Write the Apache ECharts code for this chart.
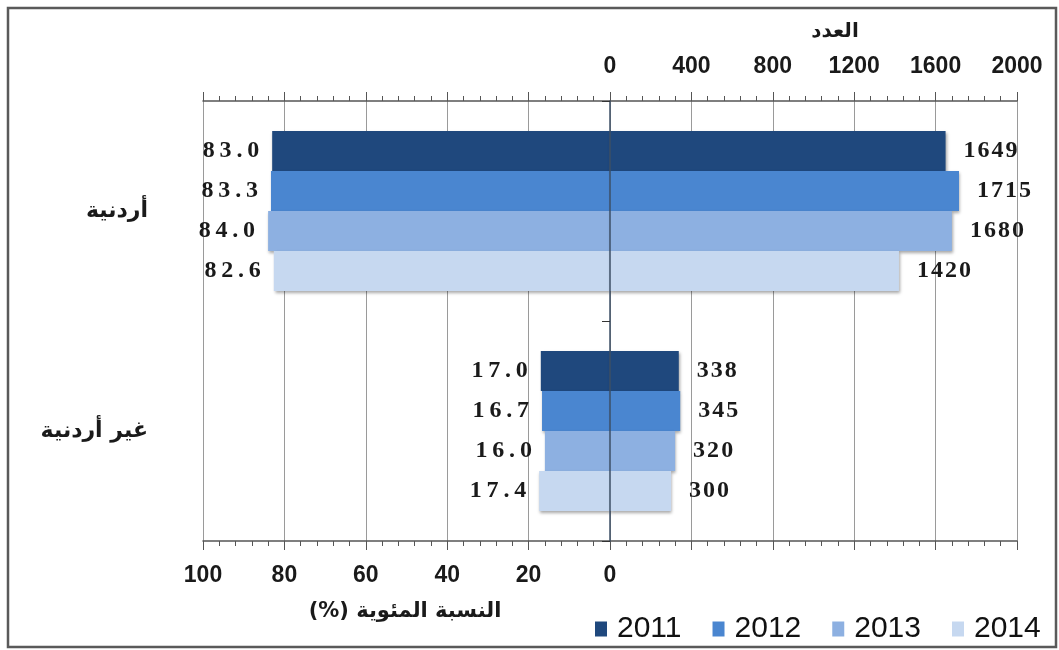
<!DOCTYPE html>
<html>
<head>
<meta charset="utf-8">
<script src="https://cdn.jsdelivr.net/npm/echarts@6/dist/echarts.min.js"></script>
<style>
html,body{margin:0;padding:0;background:#fff;}
#chart{width:1059px;height:650px;}
</style>
</head>
<body>
<div id="chart"></div>
<script>
// ---- data ----
var categories = ['أردنية', 'غير أردنية'];
var years = ['2011', '2012', '2013', '2014'];
var pct2011 = [83.0, 17.0];
var pct2012 = [83.3, 16.7];
var pct2013 = [84.0, 16.0];
var pct2014 = [82.6, 17.4];
var cnt2011 = [1649, 338];
var cnt2012 = [1715, 345];
var cnt2013 = [1680, 320];
var cnt2014 = [1420, 300];
var pctTicks = [100, 80, 60, 40, 20, 0];
var cntTicks = [0, 400, 800, 1200, 1600, 2000];
var countAxisName = 'العدد';
var pctAxisName = 'النسبة المئوية (%)';

// ---- styles ----
var colors = ['#1f487d', '#4a86d0', '#8db0e1', '#c6d8f0'];
var pctSets = [pct2011, pct2012, pct2013, pct2014];
var cntSets = [cnt2011, cnt2012, cnt2013, cnt2014];
var axisFont = 'Liberation Sans';
var arabicFont = 'DejaVu Sans';
var labelSerif = 'Liberation Serif';

var shadow = {shadowBlur: 3, shadowColor: 'rgba(0,0,0,0.35)', shadowOffsetX: 1, shadowOffsetY: 2};

var series = [];
years.forEach(function (y, i) {
  series.push({
    name: y, type: 'bar', xAxisIndex: 0, yAxisIndex: 0,
    data: pctSets[i], barWidth: 40, barGap: '0%',
    itemStyle: Object.assign({color: colors[i]}, shadow),
    label: {
      show: true, position: 'left', distance: 13,
      fontFamily: labelSerif, fontWeight: 'bold', fontSize: 24, color: '#1a1a1a',
      formatter: function (p) { return p.value.toFixed(1).split('').join('\u2009'); }
    },
    z: 2
  });
});
years.forEach(function (y, i) {
  series.push({
    name: y, type: 'bar', xAxisIndex: 1, yAxisIndex: 1,
    data: cntSets[i], barWidth: 40, barGap: '0%',
    itemStyle: Object.assign({color: colors[i]}, shadow),
    label: {
      show: true, position: 'right', distance: 18,
      fontFamily: labelSerif, fontWeight: 'bold', fontSize: 24, color: '#1a1a1a',
      formatter: function (p) { return String(p.value).split('').join('\u200A'); }
    },
    z: 2
  });
});

var chart = echarts.init(document.getElementById('chart'), null, {renderer: 'canvas'});
chart.setOption({
  backgroundColor: '#fff',
  animation: false,
  grid: {left: 203, right: 42, top: 101, bottom: 109, containLabel: false},
  legend: {
    data: years, left: 590, top: 609,
    itemWidth: 12, itemHeight: 15, itemGap: 31, icon: 'rect',
    textStyle: {fontFamily: axisFont, fontSize: 30, color: '#111', padding: [0, 0, 0, 5]}
  },
  xAxis: [
    {
      type: 'value', position: 'bottom', min: -100, max: 100, interval: 20, inverse: true,
      axisLine: {show: true, onZero: false, lineStyle: {color: '#555', width: 1.5}},
      axisTick: {show: true, length: 9, lineStyle: {color: '#555'}},
      minorTick: {show: true, splitNumber: 5, length: 5, lineStyle: {color: '#555'}},
      splitLine: {show: true, lineStyle: {color: '#9a9a9a', width: 1}},
      axisLabel: {
        margin: 23, fontFamily: axisFont, fontWeight: 'bold', fontSize: 23, color: '#1a1a1a',
        formatter: function (v) { return pctTicks.indexOf(v) >= 0 ? String(v) : ''; }
      }
    },
    {
      type: 'value', position: 'top', min: -2000, max: 2000, interval: 400,
      axisLine: {show: true, onZero: false, lineStyle: {color: '#555', width: 1.5}},
      axisTick: {show: true, length: 9, lineStyle: {color: '#555'}},
      minorTick: {show: true, splitNumber: 5, length: 5, lineStyle: {color: '#555'}},
      splitLine: {show: false},
      axisLabel: {
        margin: 23, fontFamily: axisFont, fontWeight: 'bold', fontSize: 23, color: '#1a1a1a',
        formatter: function (v) { return cntTicks.indexOf(v) >= 0 ? String(v) : ''; }
      }
    }
  ],
  yAxis: [
    {
      type: 'category', data: categories, inverse: true, position: 'left',
      axisLine: {show: false, onZero: false},
      axisTick: {show: false},
      axisLabel: {margin: 55, fontFamily: arabicFont, fontWeight: 'bold', fontSize: 22, color: '#1a1a1a'}
    },
    {
      type: 'category', data: categories, inverse: true, position: 'left', z: 10,
      axisLine: {show: true, onZero: true, lineStyle: {color: '#3d4f66', width: 1.5}},
      axisTick: {show: true, length: 8, lineStyle: {color: '#333'}},
      axisLabel: {show: false}
    }
  ],
  graphic: [
    {type: 'rect', shape: {x: 8, y: 8, width: 1048, height: 639},
     style: {fill: 'none', stroke: '#5a5a5a', lineWidth: 2.5}, silent: true},
    {type: 'text', x: 835, y: 32,
     style: {text: countAxisName, fontFamily: arabicFont, fontWeight: 'bold', fontSize: 20, fill: '#1a1a1a', align: 'center', verticalAlign: 'middle'}},
    {type: 'text', x: 405, y: 612,
     style: {text: '\u202B' + pctAxisName + '\u202C', fontFamily: arabicFont, fontWeight: 'bold', fontSize: 21, fill: '#1a1a1a', align: 'center', verticalAlign: 'middle'}}
  ],
  series: series
});
</script>
</body>
</html>
